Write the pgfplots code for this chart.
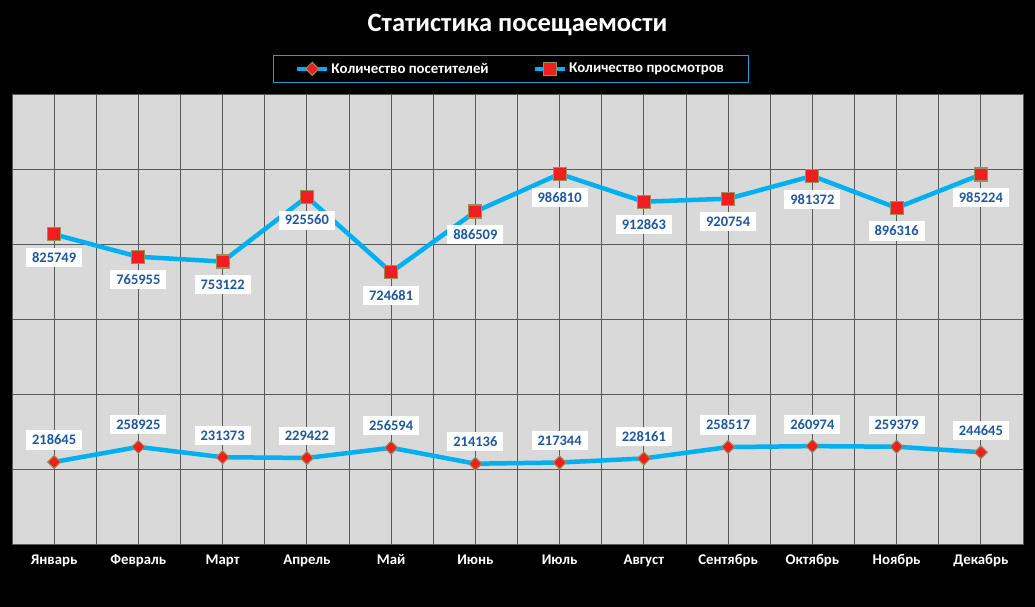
\documentclass[border=0pt]{standalone}
\usepackage{pgfplots}
\pgfplotsset{compat=1.18}
\usepackage{fontspec}
\setmainfont{Carlito}
\definecolor{bgplot}{RGB}{217,217,217}
\definecolor{gridc}{RGB}{89,89,89}
\definecolor{linec}{RGB}{0,176,240}
\definecolor{markred}{RGB}{240,30,30}
\definecolor{markedge}{RGB}{150,145,90}
\definecolor{labelblue}{RGB}{28,88,165}
\definecolor{legendedge}{RGB}{28,160,220}

\begin{document}
\begin{tikzpicture}
\fill[black] (0,0) rectangle (1035bp,607bp);
\useasboundingbox (0,0) rectangle (1035bp,607bp);
\node[text=white, font=\fontsize{26.5bp}{30bp}\selectfont\bfseries] at (517.5bp,582bp) {Статистика посещаемости};
\begin{axis}[
    at={(12bp,63bp)}, anchor=south west,
    scale only axis, width=1011bp, height=450bp,
    axis background/.style={fill=bgplot},
    axis line style={draw=gridc, line width=0.8bp},
    xmin=0.5, xmax=12.5,
    ymin=0, ymax=1200000,
    ytick={0,200000,...,1200000},
    yticklabels={},
    xtick={1,...,12},
    xticklabels={Январь,Февраль,Март,Апрель,Май,Июнь,Июль,Август,Сентябрь,Октябрь,Ноябрь,Декабрь},
    minor xtick={0.5,1.5,...,12.5},
    major tick length=0pt, minor tick length=0pt,
    grid=both,
    major grid style={draw=gridc, line width=0.8bp},
    minor grid style={draw=gridc, line width=0.8bp},
    xticklabel style={text=white, font=\fontsize{14.8bp}{17bp}\selectfont\bfseries, yshift=-7bp},
    /pgf/number format/assume math mode=true,
    legend columns=2,
    legend style={at={(0.5,1)}, anchor=south, xshift=-7bp, yshift=11bp,
        fill=black, draw=legendedge, line width=0.8bp,
        text=white, font=\fontsize{14.8bp}{17bp}\selectfont\bfseries,
        inner xsep=22bp, inner ysep=6bp,
        /tikz/every even column/.append style={column sep=42bp}},
    legend image code/.code={
        \draw[#1, mark repeat=2, mark phase=2] plot coordinates {(0bp,0bp) (15bp,0bp) (30bp,0bp)};
    },
    nodes near coords,
    nodes near coords style={
        /pgf/number format/.cd, fixed, precision=0, 1000 sep={},
        /tikz/.cd,
        font=\fontsize{14.5bp}{16bp}\selectfont\bfseries,
        text=labelblue, fill=white, inner xsep=6bp, inner ysep=4.5bp},
]
\addplot[color=linec, line width=4.5bp,
    mark=square*, mark size=4.6bp,
    mark options={rotate=45, fill=markred, draw=markedge, line width=1bp},
    nodes near coords style={anchor=south, yshift=12bp}]
coordinates {
    (1,218645) (2,258925) (3,231373) (4,229422) (5,256594) (6,214136)
    (7,217344) (8,228161) (9,258517) (10,260974) (11,259379) (12,244645)
};
\addlegendentry{Количество посетителей}
\addplot[color=linec, line width=4.5bp,
    mark=square*, mark size=6.5bp,
    mark options={fill=markred, draw=markedge, line width=1.2bp},
    nodes near coords style={anchor=north, yshift=-13bp}]
coordinates {
    (1,825749) (2,765955) (3,753122) (4,925560) (5,724681) (6,886509)
    (7,986810) (8,912863) (9,920754) (10,981372) (11,896316) (12,985224)
};
\addlegendentry{Количество просмотров}
\end{axis}
\end{tikzpicture}
\end{document}
